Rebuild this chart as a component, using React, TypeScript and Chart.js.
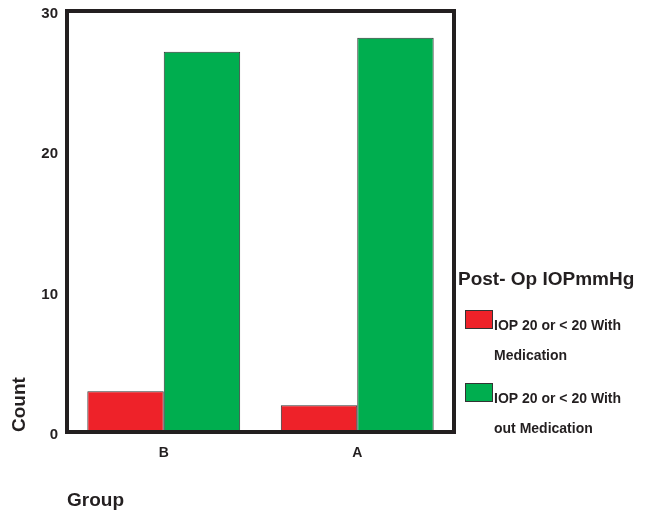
import React, { useEffect, useRef } from "react";
import { Chart, registerables } from "chart.js";

Chart.register(...registerables);

const categories = ["B", "A"];
const withMedication = [2.9, 1.9];
const withoutMedication = [27.1, 28.1];
const seriesNames = ["IOP 20 or < 20 With Medication", "IOP 20 or < 20 Without Medication"];
const legendLines = [
  ["IOP 20 or < 20 With", "Medication"],
  ["IOP 20 or < 20 With", "out Medication"],
];
const legendTitle = "Post- Op IOPmmHg";
const yTicks = [0, 10, 20, 30];
const yTitle = "Count";
const xTitle = "Group";

const RED = "#ee2229";
const GREEN = "#00ae4f";
const EDGE = "#333333";
const INK = "#231f20";
const FONT = "'Liberation Sans', Arial, Helvetica, sans-serif";

export default function App() {
  const ref = useRef<HTMLCanvasElement | null>(null);

  useEffect(() => {
    document.body.style.margin = "0";
    const canvas = ref.current;
    if (!canvas) return;

    const framePlugin = {
      id: "frame",
      afterDatasetsDraw(chart: any) {
        const { ctx, chartArea } = chart;
        ctx.save();
        ctx.strokeStyle = INK;
        ctx.lineWidth = 4;
        ctx.strokeRect(chartArea.left, chartArea.top, chartArea.right - chartArea.left, chartArea.bottom - chartArea.top);
        ctx.restore();
      },
    };

    const legendPlugin = {
      id: "customLegend",
      afterDraw(chart: any) {
        const { ctx } = chart;
        ctx.save();
        ctx.fillStyle = INK;
        ctx.font = `bold 19px ${FONT}`;
        ctx.textAlign = "left";
        ctx.textBaseline = "middle";
        ctx.fillText(legendTitle, 458, 280);
        const colors = chart.data.datasets.map((d: any) => d.backgroundColor);
        legendLines.forEach((lines, i) => {
          const top = 310 + i * 73;
          ctx.fillStyle = colors[i];
          ctx.fillRect(465, top, 28, 19);
          ctx.strokeStyle = EDGE;
          ctx.lineWidth = 1;
          ctx.strokeRect(465.5, top + 0.5, 27, 18);
          ctx.fillStyle = INK;
          ctx.font = `bold 14px ${FONT}`;
          ctx.textBaseline = "alphabetic";
          lines.forEach((ln, j) => {
            ctx.fillText(ln, 494, top + 20 + j * 30);
          });
        });
        ctx.restore();
      },
    };

    const chart = new Chart(canvas, {
      type: "bar",
      data: {
        labels: categories,
        datasets: [
          {
            label: seriesNames[0],
            data: withMedication,
            backgroundColor: RED,
            borderColor: EDGE,
            borderWidth: 1,
            borderSkipped: false,
            categoryPercentage: 0.79,
            barPercentage: 1,
          },
          {
            label: seriesNames[1],
            data: withoutMedication,
            backgroundColor: GREEN,
            borderColor: EDGE,
            borderWidth: 1,
            borderSkipped: false,
            categoryPercentage: 0.79,
            barPercentage: 1,
          },
        ],
      },
      options: {
        animation: false,
        responsive: false,
        maintainAspectRatio: false,
        layout: { padding: { left: 0, top: 11, right: 191, bottom: 0 } },
        plugins: {
          legend: { display: false },
          tooltip: { enabled: false },
        },
        scales: {
          x: {
            grid: { display: false, drawTicks: false },
            border: { display: false },
            ticks: { color: INK, font: { family: FONT, size: 14, weight: "bold" }, padding: 13 },
            title: {
              display: true,
              text: xTitle,
              align: "start",
              color: INK,
              font: { family: FONT, size: 19, weight: "bold" },
              padding: { top: 0, bottom: 0 },
            },
            afterFit(scale: any) {
              scale.height = 80;
              scale.paddingLeft = 0;
              scale.paddingRight = 0;
            },
          },
          y: {
            min: 0,
            max: 30,
            grid: { display: false, drawTicks: false },
            border: { display: false },
            afterBuildTicks(scale: any) {
              scale.ticks = yTicks.map((v) => ({ value: v }));
            },
            ticks: {
              color: INK,
              font: { family: FONT, size: 15, weight: "bold" },
              padding: 9,
              labelOffset: 3,
            },
            title: {
              display: true,
              text: yTitle,
              align: "start",
              color: INK,
              font: { family: FONT, size: 19, weight: "bold" },
              padding: { top: 8, bottom: 0 },
            },
            afterFit(scale: any) {
              scale.width = 67;
              scale.paddingTop = 0;
              scale.paddingBottom = 0;
            },
          },
        },
      },
      plugins: [framePlugin, legendPlugin],
    });

    return () => chart.destroy();
  }, []);

  return <canvas ref={ref} width={645} height={512} style={{ display: "block" }} />;
}
